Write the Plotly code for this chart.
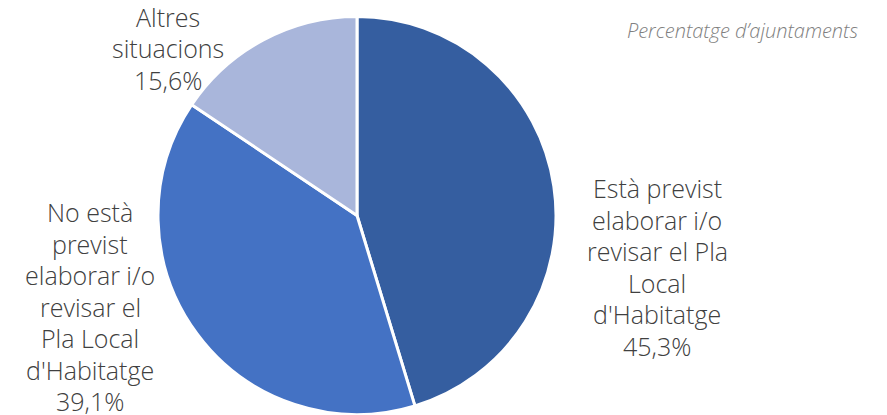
import plotly.graph_objects as go

categories = ["Està previst elaborar i/o revisar el Pla Local d'Habitatge",
              "No està previst elaborar i/o revisar el Pla Local d'Habitatge",
              "Altres situacions"]
values = [45.3, 39.1, 15.6]
label_lines = [
    ["Està previst", "elaborar i/o", "revisar el Pla", "Local", "d'Habitatge"],
    ["No està", "previst", "elaborar i/o", "revisar el", "Pla Local", "d'Habitatge"],
    ["Altres", "situacions"],
]
colors = ["#355EA0", "#4472C4", "#A9B6DB"]

W, H = 887, 415
fig = go.Figure(go.Pie(
    labels=categories, values=values, sort=False, direction="clockwise", rotation=0,
    marker=dict(colors=colors, line=dict(color="white", width=3)),
    textinfo="none", hoverinfo="label+percent", showlegend=False,
    domain=dict(x=[(357 - 199) / W, (357 + 199) / W], y=[1 - 415 / H, 1 - 16 / H]),
))

# label block anchors (center x px, first line y px), line spacing px
anchors = [(657, 188), (90, 212), (168, 17)]
spacing = 31.5
font = dict(family="Open Sans, Liberation Sans, sans-serif", size=25, color="#404040", weight=300)
for lines, v, (ax, ay) in zip(label_lines, values, anchors):
    all_lines = lines + [f"{v:.1f}".replace(".", ",") + "%"]
    for i, t in enumerate(all_lines):
        fig.add_annotation(x=ax / W, y=1 - (ay + i * spacing) / H, xref="paper", yref="paper",
                           text=t, showarrow=False, xanchor="center", yanchor="middle",
                           font=font)

fig.add_annotation(x=860 / W, y=1 - 31 / H, xref="paper", yref="paper",
                   text="<i>Percentatge d’ajuntaments</i>", showarrow=False,
                   xanchor="right", yanchor="middle",
                   font=dict(family="Open Sans, Liberation Sans, sans-serif", size=20, color="#808080", weight=300))

fig.update_layout(width=W, height=H, margin=dict(l=0, r=0, t=0, b=0),
                  paper_bgcolor="white", plot_bgcolor="white")
fig.write_html("out.html", config={"displayModeBar": False},
               post_script="document.body.style.margin='0';")
